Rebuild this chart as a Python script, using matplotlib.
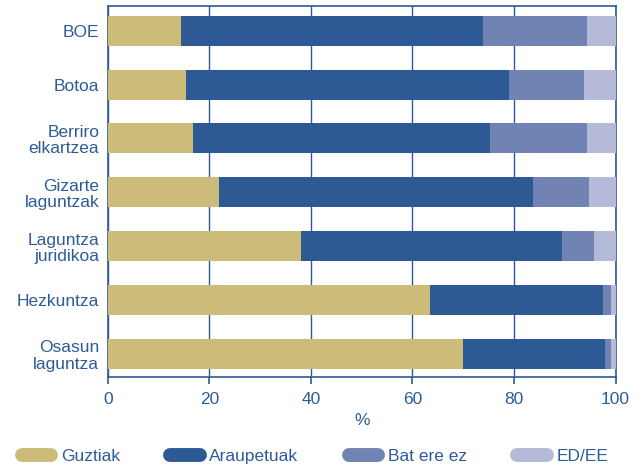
import matplotlib
matplotlib.use("Agg")
import matplotlib.pyplot as plt
from matplotlib.lines import Line2D
import numpy as np

categories = [
    "BOE",
    "Botoa",
    "Berriro\nelkartzea",
    "Gizarte\nlaguntzak",
    "Laguntza\njuridikoa",
    "Hezkuntza",
    "Osasun\nlaguntza",
]
series_names = ["Guztiak", "Araupetuak", "Bat ere ez", "ED/EE"]
guztiak = [14.5, 15.5, 16.8, 22.0, 38.0, 63.4, 70.0]
araupetuak = [59.4, 63.5, 58.4, 61.7, 51.5, 34.2, 28.0]
bat_ere_ez = [20.5, 14.7, 19.2, 11.0, 6.2, 1.4, 1.0]
ed_ee = [5.6, 6.3, 5.6, 5.3, 4.3, 1.0, 1.0]

colors = ["#CDBC79", "#2D5A95", "#7083B3", "#B5BAD8"]
text_color = "#2E5C99"
line_color = "#2D5A95"

plt.rcParams["font.family"] = ["Liberation Sans", "DejaVu Sans"]
plt.rcParams["font.size"] = 12.5

fig = plt.figure(figsize=(6.43, 4.68), dpi=100)
ax = fig.add_axes([0.1675, 0.1951, 0.9574 - 0.1675, 0.9878 - 0.1951])

y = np.arange(len(categories))
left = np.zeros(len(categories))
for name, vals, c in zip(series_names, [guztiak, araupetuak, bat_ere_ez, ed_ee], colors):
    ax.barh(y, vals, left=left, height=0.557, color=c, label=name, zorder=3)
    left += np.array(vals)

ax.set_xlim(0, 100)
ax.set_ylim(6.427, -0.464)
ax.set_xticks([0, 20, 40, 60, 80, 100])
ax.set_yticks(y)
ax.set_yticklabels(categories)
for lbl in ax.get_yticklabels():
    lbl.set_linespacing(1.12)

ax.xaxis.grid(True, color=line_color, linewidth=1.0, zorder=0)
ax.set_axisbelow(True)
for s in ax.spines.values():
    s.set_color(line_color)
    s.set_linewidth(1.2)

ax.tick_params(axis="x", colors=line_color, labelcolor=text_color, length=5,
               width=1.2, pad=6, labelsize=12.5)
ax.tick_params(axis="y", length=0, pad=6, labelcolor=text_color, labelsize=12.5)

ax.set_xlabel("%", color=text_color, fontsize=12.5, labelpad=4)

handles = [Line2D([0], [0], color=c, lw=10, solid_capstyle="round") for c in colors]
fig.legend(handles, series_names, loc="lower center", bbox_to_anchor=(0.49, -0.025),
           ncol=4, frameon=False, handlelength=1.7, handletextpad=0.55,
           columnspacing=2.9, labelcolor=text_color, fontsize=12.5)

fig.savefig("out.png", dpi=100)
